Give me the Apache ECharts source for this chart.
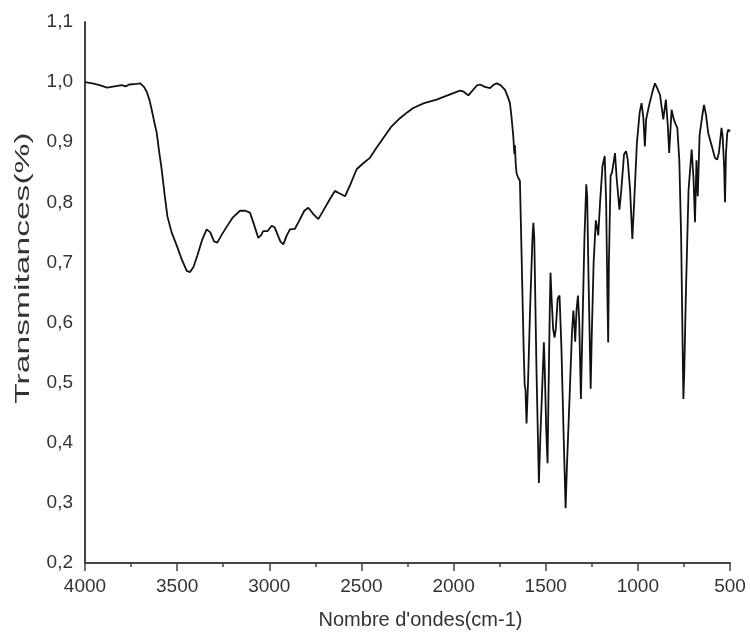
<!DOCTYPE html>
<html>
<head>
<meta charset="utf-8">
<script src="https://cdn.jsdelivr.net/npm/echarts@6/dist/echarts.min.js"></script>
<style>html,body{margin:0;padding:0;background:#fff}#c{width:750px;height:642px}</style>
</head>
<body>
<div id="c"></div>
<script>
// Wavenumbers (cm-1) and transmittance values
const wavenumbers = [4000,3960,3920,3880,3870,3840,3800,3780,3760,3720,3700,3680,3665,3650,3638,3625,3611,3598,3584,3570,3553,3530,3502,3475,3448,3430,3412,3390,3365,3340,3320,3300,3282,3260,3230,3200,3159,3130,3105,3085,3060,3045,3033,3010,2987,2970,2960,2940,2924,2905,2888,2861,2840,2810,2788,2760,2734,2700,2670,2644,2620,2589,2560,2526,2490,2454,2420,2381,2340,2291,2250,2219,2160,2092,2040,1990,1965,1945,1920,1900,1875,1857,1830,1802,1785,1766,1745,1721,1705,1694,1685,1676,1670,1667,1663,1658,1648,1640,1630,1620,1614,1610,1604,1596,1585,1572,1567,1562,1550,1537,1528,1518,1510,1505,1497,1490,1485,1478,1474,1468,1460,1452,1445,1435,1425,1415,1400,1392,1385,1370,1358,1350,1345,1340,1333,1325,1318,1309,1300,1290,1280,1275,1268,1256,1250,1240,1228,1222,1215,1205,1192,1180,1172,1165,1161,1157,1148,1140,1124,1115,1100,1090,1075,1064,1055,1042,1030,1020,1005,990,980,970,962,955,940,920,907,895,880,862,848,838,830,817,805,795,786,775,765,757,753,748,740,725,708,698,690,682,675,665,650,641,630,618,600,582,570,560,546,540,532,527,522,515,509,500];
const transmittance = [1.000,0.998,0.995,0.991,0.994,0.993,0.995,0.993,0.996,0.997,0.998,0.992,0.984,0.970,0.954,0.935,0.916,0.885,0.855,0.818,0.777,0.750,0.728,0.705,0.686,0.684,0.692,0.712,0.737,0.755,0.750,0.735,0.733,0.745,0.760,0.774,0.786,0.786,0.783,0.765,0.741,0.745,0.752,0.752,0.761,0.758,0.750,0.735,0.730,0.745,0.755,0.756,0.768,0.786,0.791,0.780,0.772,0.790,0.806,0.819,0.815,0.810,0.830,0.855,0.865,0.874,0.890,0.907,0.925,0.940,0.950,0.957,0.965,0.971,0.977,0.983,0.986,0.984,0.978,0.985,0.994,0.996,0.992,0.990,0.995,0.998,0.995,0.987,0.975,0.965,0.940,0.910,0.880,0.895,0.865,0.848,0.840,0.836,0.700,0.560,0.495,0.490,0.432,0.500,0.620,0.740,0.766,0.740,0.520,0.333,0.420,0.500,0.567,0.520,0.420,0.366,0.480,0.620,0.683,0.640,0.590,0.575,0.590,0.640,0.645,0.560,0.380,0.291,0.360,0.480,0.580,0.620,0.600,0.568,0.620,0.645,0.600,0.473,0.600,0.740,0.830,0.810,0.680,0.490,0.580,0.700,0.770,0.760,0.745,0.800,0.860,0.877,0.800,0.640,0.567,0.700,0.844,0.850,0.882,0.840,0.788,0.820,0.880,0.885,0.871,0.820,0.739,0.800,0.900,0.950,0.965,0.940,0.893,0.938,0.960,0.985,0.998,0.990,0.979,0.938,0.971,0.930,0.882,0.954,0.938,0.930,0.924,0.870,0.740,0.560,0.473,0.520,0.640,0.820,0.888,0.840,0.767,0.870,0.810,0.912,0.945,0.962,0.945,0.915,0.895,0.874,0.871,0.883,0.924,0.910,0.860,0.800,0.880,0.915,0.921,0.918];
const xTickValues = [4000,3500,3000,2500,2000,1500,1000,500];
const yTickValues = [0.2,0.3,0.4,0.5,0.6,0.7,0.8,0.9,1.0,1.1];
const xTitle = "Nombre d'ondes(cm-1)";
const yTitle = 'Transmitances(%)';

const seriesData = wavenumbers.map((w, i) => [w, transmittance[i]]);
const regular = '"Liberation Sans", Arial, sans-serif';
const chart = echarts.init(document.getElementById('c'), null, {renderer: 'canvas'});
chart.setOption({
  animation: false,
  backgroundColor: '#ffffff',
  grid: {left: 85, right: 20, top: 22, bottom: 79, containLabel: false},
  graphic: [{
    type: 'text', x: 23, y: 268, rotation: Math.PI / 2, scaleX: 1.6, scaleY: 1,
    style: {text: yTitle, font: '21px ' + regular, fill: '#333', align: 'center', verticalAlign: 'middle'}
  }],
  xAxis: {
    type: 'value', inverse: true, min: 500, max: 4000, interval: 500,
    name: xTitle, nameLocation: 'middle', nameGap: 47,
    nameTextStyle: {fontFamily: regular, fontSize: 20, color: '#333', padding: [0, 0, 0, 26]},
    axisLine: {show: true, onZero: false, lineStyle: {color: '#444', width: 2}},
    axisTick: {show: true, length: 8, lineStyle: {color: '#444', width: 1.5}},
    minorTick: {show: true, splitNumber: 2, length: 4, lineStyle: {color: '#444', width: 1.5}},
    splitLine: {show: false},
    axisLabel: {fontFamily: regular, fontSize: 19, color: '#333', margin: 14,
      formatter: v => xTickValues.includes(v) ? String(v) : ''}
  },
  yAxis: {
    type: 'value', min: 0.2, max: 1.1, interval: 0.1,
    axisLine: {show: true, onZero: false, lineStyle: {color: '#444', width: 2}},
    axisTick: {show: false},
    splitLine: {show: false},
    axisLabel: {fontFamily: regular, fontSize: 19, color: '#333', margin: 12,
      formatter: v => {
        const t = yTickValues.find(y => Math.abs(y - v) < 1e-6);
        return t === undefined ? '' : t.toFixed(1).replace('.', ',');
      }}
  },
  series: [{
    type: 'line', data: seriesData, showSymbol: false, smooth: false,
    lineStyle: {color: '#111', width: 1.8}
  }]
});
</script>
</body>
</html>
